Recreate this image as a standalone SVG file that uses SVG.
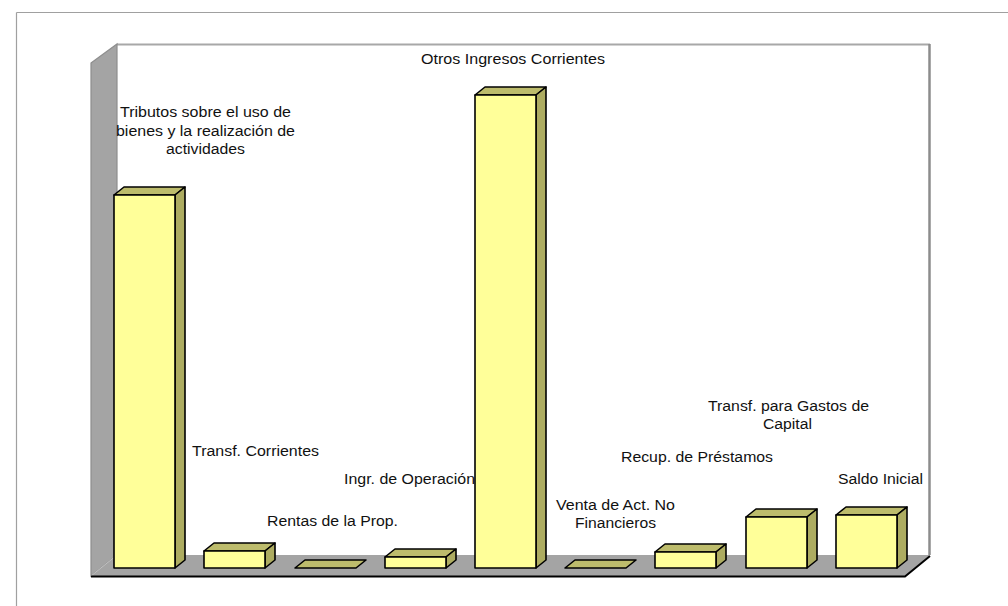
<svg xmlns="http://www.w3.org/2000/svg" width="1008" height="606" viewBox="0 0 1008 606">
<style>
.lbl{font-family:"Liberation Sans",Arial,sans-serif;font-size:14px;fill:#111}
.front{fill:#ffff99;stroke:#000;stroke-width:1.6;stroke-linejoin:round}
.side{fill:#adac61;stroke:#000;stroke-width:1.6;stroke-linejoin:round}
.top{fill:#bdbc6c;stroke:#000;stroke-width:1.6;stroke-linejoin:round}
.frame{stroke:#a0a0a0;stroke-width:1.2;fill:none}
</style>
<rect width="1008" height="606" fill="#fff"/>
<g id="frame">
<line class="frame" x1="16.5" y1="12.5" x2="1008" y2="12.5"/>
<line class="frame" x1="16.5" y1="12.5" x2="16.5" y2="606"/>
</g>
<g id="chart-walls">
<rect x="117" y="44" width="813" height="511" fill="#fff"/>
<line x1="117" y1="44.5" x2="930" y2="44.5" stroke="#a8a8a8" stroke-width="2"/>
<line x1="929.5" y1="44" x2="929.5" y2="555" stroke="#8c8c8c" stroke-width="2.5"/>
<polygon points="91,63 117,44 117,555 91,576" fill="#a4a4a4" stroke="#8e8e8e" stroke-width="1.2"/>
<polygon points="91,576 117,555 930,555 905,576" fill="#a4a4a4"/>
<line x1="91" y1="576" x2="117" y2="555" stroke="#c0c0c0" stroke-width="1"/>
<polyline points="91,576.5 905,576.5 930,556" fill="none" stroke="#000" stroke-width="2"/>
</g>
<g id="labels">
<text class="lbl" x="120" y="117" textLength="171" lengthAdjust="spacingAndGlyphs">Tributos sobre el uso de</text>
<text class="lbl" x="116" y="136" textLength="179" lengthAdjust="spacingAndGlyphs">bienes y la realización de</text>
<text class="lbl" x="166" y="154" textLength="79" lengthAdjust="spacingAndGlyphs">actividades</text>
<text class="lbl" x="421" y="64" textLength="184" lengthAdjust="spacingAndGlyphs">Otros Ingresos Corrientes</text>
<text class="lbl" x="192" y="456" textLength="127" lengthAdjust="spacingAndGlyphs">Transf. Corrientes</text>
<text class="lbl" x="267" y="526" textLength="131" lengthAdjust="spacingAndGlyphs">Rentas de la Prop.</text>
<text class="lbl" x="344" y="484" textLength="131" lengthAdjust="spacingAndGlyphs">Ingr. de Operación</text>
<text class="lbl" x="556" y="510" textLength="119" lengthAdjust="spacingAndGlyphs">Venta de Act. No</text>
<text class="lbl" x="575" y="528" textLength="81" lengthAdjust="spacingAndGlyphs">Financieros</text>
<text class="lbl" x="621" y="462" textLength="152" lengthAdjust="spacingAndGlyphs">Recup. de Préstamos</text>
<text class="lbl" x="708" y="411" textLength="161" lengthAdjust="spacingAndGlyphs">Transf. para Gastos de</text>
<text class="lbl" x="763" y="429" textLength="49" lengthAdjust="spacingAndGlyphs">Capital</text>
<text class="lbl" x="838" y="484" textLength="85" lengthAdjust="spacingAndGlyphs">Saldo Inicial</text>
</g>
<g id="bar-tributos">
<polygon class="top" points="114,195 124,187 185,187 175,195"/>
<polygon class="side" points="175,195 185,187 185,560 175,568"/>
<rect class="front" x="114" y="195" width="61" height="373"/>
</g>
<g id="bar-transf-corrientes">
<polygon class="top" points="204,551 214,543 275,543 265,551"/>
<polygon class="side" points="265,551 275,543 275,560 265,568"/>
<rect class="front" x="204" y="551" width="61" height="17"/>
</g>
<g id="bar-rentas">
<polygon class="top" points="295,568 305,560 366,560 356,568"/>
</g>
<g id="bar-ingr-operacion">
<polygon class="top" points="385,557 395,549 456,549 446,557"/>
<polygon class="side" points="446,557 456,549 456,560 446,568"/>
<rect class="front" x="385" y="557" width="61" height="11"/>
</g>
<g id="bar-otros-ingresos">
<polygon class="top" points="475,95 485,87 546,87 536,95"/>
<polygon class="side" points="536,95 546,87 546,560 536,568"/>
<rect class="front" x="475" y="95" width="61" height="473"/>
</g>
<g id="bar-venta-act">
<polygon class="top" points="565,568 575,560 636,560 626,568"/>
</g>
<g id="bar-recup-prestamos">
<polygon class="top" points="655,552 665,544 726,544 716,552"/>
<polygon class="side" points="716,552 726,544 726,560 716,568"/>
<rect class="front" x="655" y="552" width="61" height="16"/>
</g>
<g id="bar-transf-capital">
<polygon class="top" points="746,517 756,509 817,509 807,517"/>
<polygon class="side" points="807,517 817,509 817,560 807,568"/>
<rect class="front" x="746" y="517" width="61" height="51"/>
</g>
<g id="bar-saldo-inicial">
<polygon class="top" points="836,515 846,507 907,507 897,515"/>
<polygon class="side" points="897,515 907,507 907,560 897,568"/>
<rect class="front" x="836" y="515" width="61" height="53"/>
</g>
<g id="connectors"/>
</svg>
